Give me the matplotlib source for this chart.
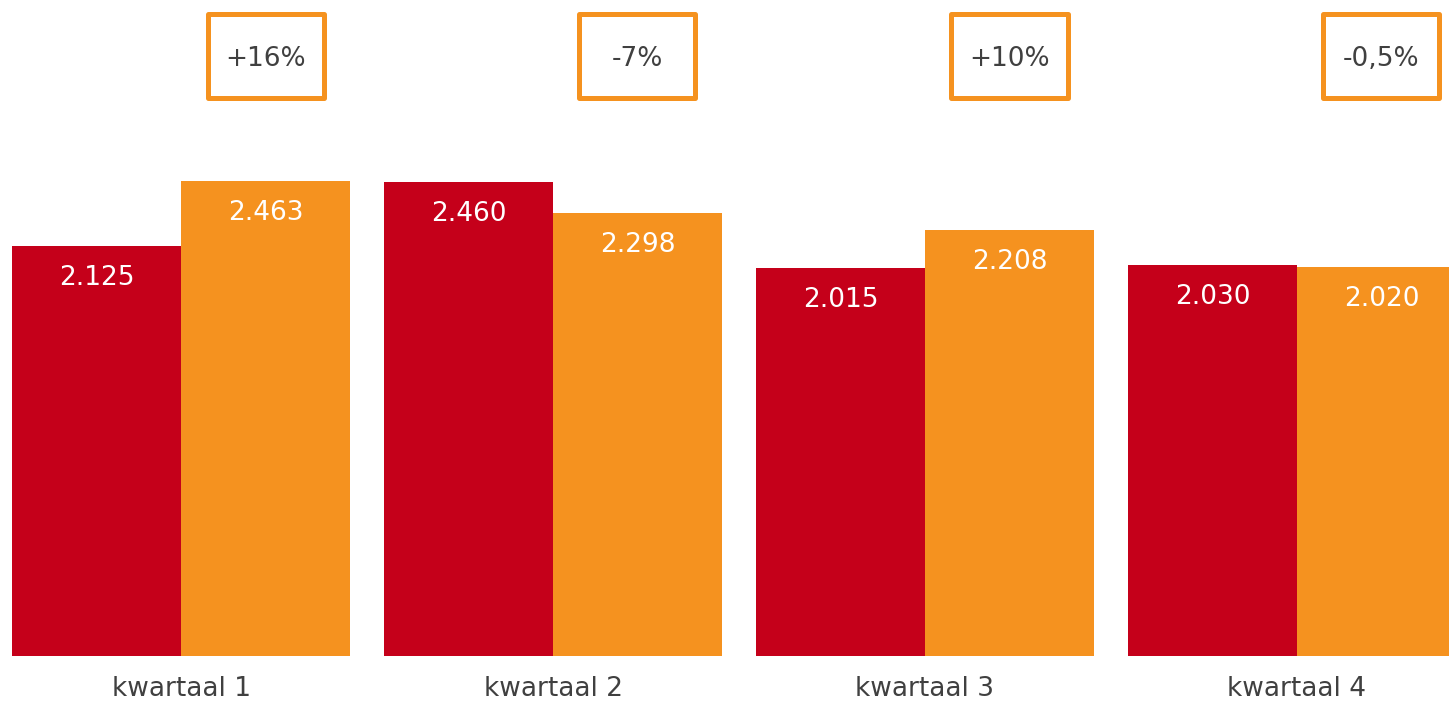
import matplotlib
matplotlib.use("Agg")
import matplotlib.pyplot as plt
from matplotlib.patches import Rectangle

categories = ["kwartaal 1", "kwartaal 2", "kwartaal 3", "kwartaal 4"]
series_a = [2125, 2460, 2015, 2030]
series_b = [2463, 2298, 2208, 2020]
labels_a = ["2.125", "2.460", "2.015", "2.030"]
labels_b = ["2.463", "2.298", "2.208", "2.020"]
changes = ["+16%", "-7%", "+10%", "-0,5%"]

RED = "#C5001A"
ORANGE = "#F5921F"
TXT = "#404040"

W, H = 1449, 703
fig = plt.figure(figsize=(W / 100, H / 100), dpi=100)
ax = fig.add_axes([0, 47 / H, 1, 656 / H])

spacing = 372.0
bw = 169 / spacing
x = list(range(len(categories)))
xa = [i - bw / 2 for i in x]
xb = [i + bw / 2 for i in x]

ax.bar(xa, series_a, width=bw, color=RED, linewidth=0)
ax.bar(xb, series_b, width=bw, color=ORANGE, linewidth=0)

ax.set_xlim(-181 / spacing, (W - 181) / spacing)
ax.set_ylim(0, 656 / 0.1928)
ax.axis("off")

px = 0.72  # points per pixel
for xi, v, s in zip(xa, series_a, labels_a):
    ax.annotate(s, (xi, v), xytext=(0, -39 * px), textcoords="offset points",
                ha="center", va="baseline", color="white", fontsize=19)
for xi, v, s in zip(xb, series_b, labels_b):
    ax.annotate(s, (xi, v), xytext=(0, -39 * px), textcoords="offset points",
                ha="center", va="baseline", color="white", fontsize=19)

trans = ax.get_xaxis_transform()
box_w = 116 / spacing
box_h = 84 / 656
box_yc = (656 - 55.5) / 656
for xi, c in zip(xb, changes):
    r = Rectangle((xi - box_w / 2, box_yc - box_h / 2), box_w, box_h,
                  transform=trans, fill=False, edgecolor=ORANGE,
                  linewidth=5 * px, joinstyle="round", clip_on=False)
    ax.add_patch(r)
    ax.text(xi, (656 - 66) / 656, c, transform=trans, ha="center",
            va="baseline", color=TXT, fontsize=19)

for xi, c in zip(x, categories):
    ax.text(xi, -46.5 / 656, c, transform=trans, ha="center",
            va="bottom", color=TXT, fontsize=19, clip_on=False)

fig.savefig("out.png", dpi=100)
